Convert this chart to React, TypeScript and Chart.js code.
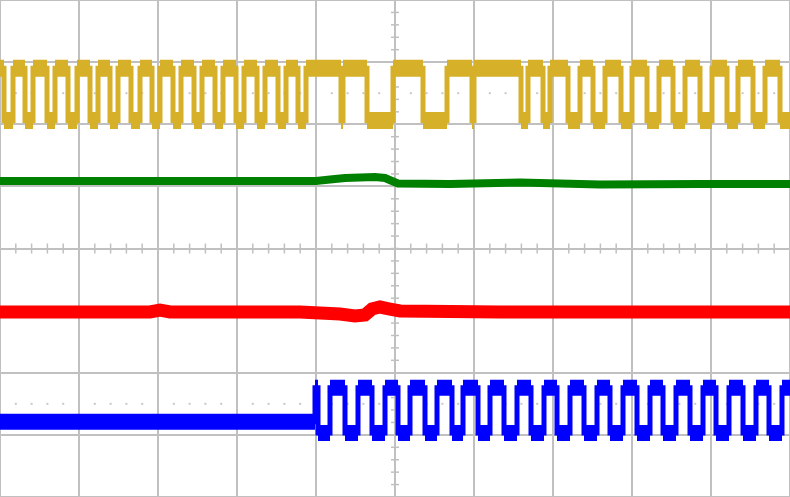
import React, { useEffect, useRef } from "react";
import { Chart, registerables } from "chart.js";

Chart.register(...registerables);

// Record length (samples) and screen divisions
const X_MIN = 0;
const X_MAX = 790;
const X_DIV = 79;
const Y_MIN = -4;
const Y_MAX = 4;

// Channel 1 (yellow) – digital-like square wave, levels in divisions
const yellowHigh = 2.9;
const yellowLow = 2.06;
const yellowEdges = [
  4, 13, 25, 33, 47, 55, 68, 77, 90, 98, 110, 118, 131, 140, 152, 160, 173, 181,
  194, 202, 215, 223, 236, 244, 257, 265, 278, 286, 298, 306, 341, 343, 367, 393,
  423, 447, 472, 474, 521, 528, 543, 550, 568, 580, 593, 605, 621, 632, 647, 659,
  673, 685, 700, 712, 727, 738, 753, 765, 780,
];

// Channel 2 (green) – slow analog trace
const greenX = [0, 100, 200, 316, 330, 345, 360, 375, 385, 392, 398, 450, 520, 600, 700, 790];
const greenY = [1.087, 1.087, 1.087, 1.087, 1.111, 1.135, 1.143, 1.151, 1.135, 1.087, 1.046, 1.038, 1.062, 1.03, 1.038, 1.038];

// Channel 3 (red) – slow analog trace
const redX = [0, 150, 160, 170, 300, 340, 355, 365, 372, 380, 390, 400, 500, 790];
const redY = [-1.022, -1.022, -0.99, -1.022, -1.022, -1.054, -1.086, -1.07, -0.974, -0.942, -0.974, -1.006, -1.022, -1.022];

// Channel 4 (blue) – idle, then square wave
const blueIdle = -2.79;
const blueHigh = -2.24;
const blueLow = -2.97;
const blueEdges = [
  315, 318, 330, 345, 358, 372, 385, 398, 410, 425, 437, 452, 463, 478, 490, 504,
  517, 531, 544, 557, 570, 584, 597, 610, 623, 637, 650, 663, 676, 690, 703, 716,
  729, 743, 756, 769, 782,
];

// Dotted reference rows (divisions)
const dotRows = [2.5, -2.5];

const YELLOW = "rgb(214,176,40)";
const GREEN = "rgb(0,128,0)";
const RED = "rgb(255,0,0)";
const BLUE = "rgb(0,0,255)";
const GRID = "rgb(192,192,192)";

type P = { x: number; y: number | null };

function wave(edges: number[], first: number, a: number, b: number): P[] {
  const pts: P[] = [{ x: X_MIN, y: first }];
  let cur = first;
  edges.forEach((e, i) => {
    const next = i % 2 === 0 ? a : b;
    pts.push({ x: e, y: cur });
    pts.push({ x: e, y: next });
    cur = next;
  });
  pts.push({ x: X_MAX, y: cur });
  return pts;
}

function caps(edges: number[], first: number, a: number, b: number): P[] {
  const pts: P[] = [];
  let start = X_MIN;
  let cur = first;
  const all = [...edges, X_MAX];
  all.forEach((e, i) => {
    pts.push({ x: start, y: cur });
    pts.push({ x: e, y: cur });
    pts.push({ x: e, y: null });
    start = e;
    cur = i % 2 === 0 ? a : b;
  });
  return pts;
}

const zip = (xs: number[], ys: number[]): P[] => xs.map((x, i) => ({ x, y: ys[i] }));

const scopePlugin = {
  id: "scopeMarks",
  beforeDatasetsDraw(chart: any) {
    const { ctx, scales } = chart;
    const xs = scales.x;
    const ys = scales.y;
    const cx = xs.getPixelForValue((X_MIN + X_MAX) / 2);
    const cy = ys.getPixelForValue(0);
    ctx.save();
    ctx.strokeStyle = GRID;
    ctx.lineWidth = 1.5;
    // minor ticks along center horizontal axis
    for (let v = X_MIN; v <= X_MAX + 0.01; v += X_DIV / 5) {
      const px = xs.getPixelForValue(v);
      ctx.beginPath();
      ctx.moveTo(px, cy - 5);
      ctx.lineTo(px, cy + 5);
      ctx.stroke();
    }
    // minor ticks along center vertical axis
    for (let v = Y_MIN; v <= Y_MAX + 0.001; v += 0.2) {
      const py = ys.getPixelForValue(v);
      ctx.beginPath();
      ctx.moveTo(cx - 4, py);
      ctx.lineTo(cx + 4, py);
      ctx.stroke();
    }
    // dotted rows
    ctx.fillStyle = "rgb(200,200,200)";
    dotRows.forEach((r) => {
      const py = ys.getPixelForValue(r);
      for (let k = 0; k <= 50; k++) {
        if (k % 5 === 0) continue;
        const px = xs.getPixelForValue(X_MIN + (k * X_DIV) / 5);
        ctx.fillRect(px - 1, py - 1, 2, 2);
      }
    });
    ctx.restore();
  },
};

export default function App() {
  const ref = useRef<HTMLCanvasElement | null>(null);
  useEffect(() => {
    document.body.style.margin = "0";
    const canvas = ref.current!;
    const ds = (data: P[], color: string, w: number) => ({
      data,
      borderColor: color,
      borderWidth: w,
      pointRadius: 0,
      tension: 0,
      fill: false,
      borderJoinStyle: "miter" as const,
      spanGaps: false,
    });
    const chart = new Chart(canvas, {
      type: "line",
      data: {
        datasets: [
          ds(wave(yellowEdges, yellowHigh, yellowLow, yellowHigh), YELLOW, 5),
          ds(caps(yellowEdges, yellowHigh, yellowLow, yellowHigh), YELLOW, 17),
          ds(zip(greenX, greenY), GREEN, 8),
          ds(zip(redX, redY), RED, 13),
          ds(wave(blueEdges, blueIdle, blueHigh, blueLow), BLUE, 5),
          ds(caps(blueEdges, blueIdle, blueHigh, blueLow), BLUE, 16),
        ] as any,
      },
      options: {
        animation: false,
        responsive: false,
        events: [],
        layout: { padding: 0 },
        plugins: { legend: { display: false }, tooltip: { enabled: false } },
        scales: {
          x: {
            type: "linear",
            min: X_MIN,
            max: X_MAX,
            ticks: { display: false, stepSize: X_DIV },
            grid: { color: GRID, lineWidth: 2, drawTicks: false },
            border: { display: false },
          },
          y: {
            type: "linear",
            min: Y_MIN,
            max: Y_MAX,
            ticks: { display: false, stepSize: 1 },
            grid: { color: GRID, lineWidth: 2, drawTicks: false },
            border: { display: false },
          },
        },
      },
      plugins: [scopePlugin],
    });
    return () => chart.destroy();
  }, []);
  return <canvas ref={ref} width={790} height={497} style={{ display: "block" }} />;
}
